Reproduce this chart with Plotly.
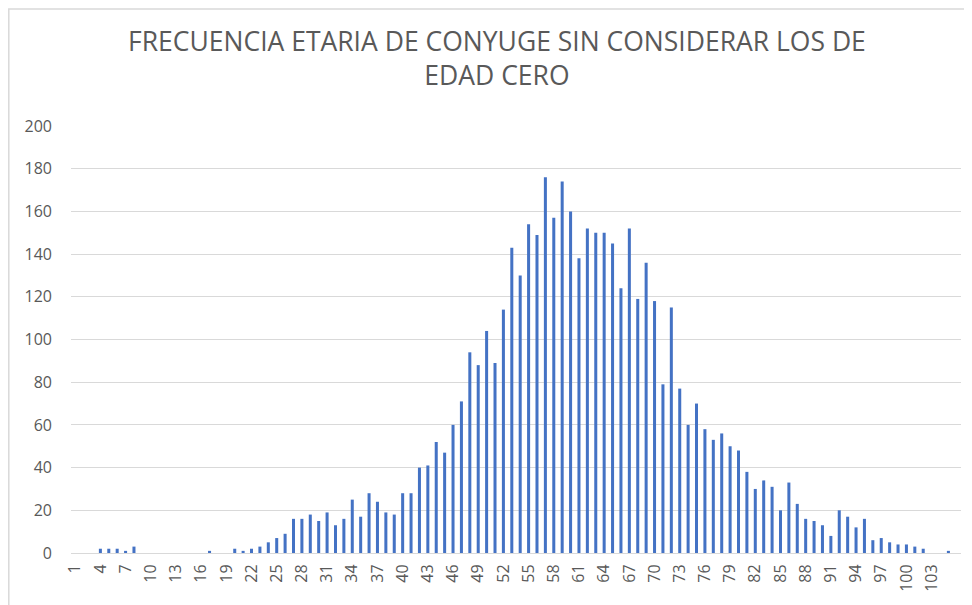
import plotly.graph_objects as go

ages = list(range(1, 107))
counts = [
    0, 0, 0, 2, 2, 2, 1, 3, 0, 0,          # 1-10
    0, 0, 0, 0, 0, 0, 1, 0, 0, 2,          # 11-20
    1, 2, 3, 5, 7, 9, 16, 16, 18, 15,      # 21-30
    19, 13, 16, 25, 17, 28, 24, 19, 18, 28,  # 31-40
    28, 40, 41, 52, 47, 60, 71, 94, 88, 104,  # 41-50
    89, 114, 143, 130, 154, 149, 176, 157, 174, 160,  # 51-60
    138, 152, 150, 150, 145, 124, 152, 119, 136, 118,  # 61-70
    79, 115, 77, 60, 70, 58, 53, 56, 50, 48,  # 71-80
    38, 30, 34, 31, 20, 33, 23, 16, 15, 13,  # 81-90
    8, 20, 17, 12, 16, 6, 7, 5, 4, 4,       # 91-100
    3, 2, 0, 0, 1, 0,                       # 101-106
]
tick_vals = list(range(1, 104, 3))
tick_text = [str(v) for v in tick_vals]
title_text = "FRECUENCIA ETARIA DE CONYUGE SIN CONSIDERAR LOS DE<br>EDAD CERO"

# the page body adds an 8px offset; figure is sized to fit the window
OFF = 8
W, H = 972 - OFF, 605 - OFF
L = 71 - OFF
T = 126 - OFF
R = W - (961 - OFF)
B = H - (553.3 - OFF)
pw = W - L - R
ph = H - T - B

fig = go.Figure(go.Bar(x=ages, y=counts, width=0.36, marker=dict(color="#4472C4", line=dict(width=0))))

grey = "#595959"
font = "Open Sans, Liberation Sans, sans-serif"

fig.update_layout(
    width=W, height=H,
    margin=dict(l=L, r=R, t=T, b=B, autoexpand=False),
    plot_bgcolor="white", paper_bgcolor="white",
    showlegend=False,
    font=dict(family=font, color=grey, size=16),
    xaxis=dict(
        range=[0.5, 106.5], tickmode="array", tickvals=tick_vals, ticktext=tick_text,
        tickangle=-90, showgrid=False, showline=True, linecolor="#D9D9D9", linewidth=1,
        ticks="", zeroline=False, tickfont=dict(size=16, color=grey), automargin=False,
        ticklabelstandoff=4,
    ),
    yaxis=dict(
        range=[0, 200], tickmode="linear", tick0=0, dtick=20,
        showgrid=True, gridcolor="#D9D9D9", gridwidth=1, zeroline=False,
        showline=False, ticks="", tickfont=dict(size=16, color=grey),
        ticklabelstandoff=18, automargin=False,
    ),
)

def px_x(px):
    return (px - OFF - L) / pw

def px_y(py):
    return (H - B - (py - OFF)) / ph

fig.add_annotation(text=title_text, xref="paper", yref="paper", x=px_x(496.5), y=px_y(58),
                   xanchor="center", yanchor="middle", showarrow=False,
                   font=dict(size=26.5, color=grey, family=font))

fig.add_shape(type="rect", xref="paper", yref="paper",
              x0=px_x(8.8), x1=px_x(990), y0=px_y(620), y1=px_y(8.8),
              line=dict(color="#D9D9D9", width=1.5), fillcolor="rgba(0,0,0,0)", layer="below")

fig.write_html("out.html")
